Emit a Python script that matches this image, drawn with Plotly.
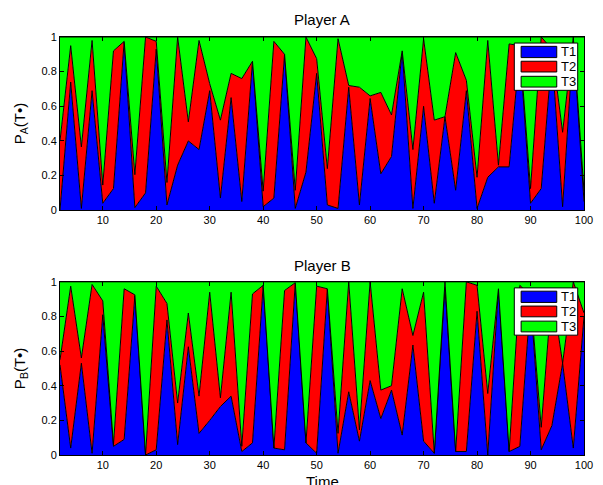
import plotly.graph_objects as go

# Time steps
time = list(range(2, 101, 2))

# Player A probabilities
pA_T1 = [0.00, 0.74, 0.01, 0.69, 0.04, 0.125, 0.975, 0.015, 0.10, 0.93,
         0.03, 0.26, 0.40, 0.35, 0.69, 0.07, 0.65, 0.05, 0.86, 0.02,
         0.07, 0.90, 0.01, 0.22, 0.79, 0.03, 0.01, 0.71, 0.03, 0.645,
         0.21, 0.31, 0.92, 0.01, 0.60, 0.04, 0.54, 0.115, 0.69, 0.01,
         0.19, 0.25, 0.25, 0.93, 0.04, 0.125, 0.90, 0.02, 0.98, 0.05]
pA_T2 = [0.40, 0.21, 0.355, 0.29, 0.105, 0.795, 0.00, 0.19, 0.90, 0.045,
         0.13, 0.74, 0.11, 0.63, 0.04, 0.45, 0.14, 0.71, 0.00, 0.09,
         0.905, 0.00, 0.105, 0.78, 0.085, 0.21, 0.98, 0.01, 0.68, 0.015,
         0.47, 0.24, 0.00, 0.34, 0.39, 0.48, 0.00, 0.795, 0.06, 0.18,
         0.79, 0.01, 0.71, 0.02, 0.085, 0.875, 0.03, 0.43, 0.02, 0.06]
pA_T3 = [0.60, 0.05, 0.635, 0.02, 0.855, 0.08, 0.025, 0.795, 0.00, 0.025,
         0.84, 0.00, 0.49, 0.02, 0.27, 0.48, 0.21, 0.24, 0.14, 0.89,
         0.025, 0.10, 0.885, 0.00, 0.125, 0.76, 0.01, 0.28, 0.29, 0.34,
         0.32, 0.45, 0.08, 0.65, 0.01, 0.48, 0.46, 0.09, 0.25, 0.81,
         0.02, 0.74, 0.04, 0.05, 0.875, 0.00, 0.07, 0.55, 0.00, 0.89]

# Player B probabilities
pB_T1 = [0.52, 0.04, 0.53, 0.01, 0.81, 0.05, 0.09, 0.92, 0.00, 0.03,
         0.78, 0.06, 0.625, 0.125, 0.20, 0.28, 0.34, 0.02, 0.07, 0.98,
         0.04, 0.03, 0.995, 0.07, 0.01, 0.96, 0.01, 0.365, 0.08, 0.43,
         0.21, 0.375, 0.115, 0.635, 0.08, 0.01, 0.97, 0.02, 0.02, 0.83,
         0.00, 0.96, 0.02, 0.05, 0.90, 0.03, 0.17, 0.53, 0.04, 0.80]
pB_T2 = [0.03, 0.935, 0.03, 0.975, 0.08, 0.01, 0.87, 0.005, 0.00, 0.945,
         0.095, 0.24, 0.195, 0.215, 0.74, 0.05, 0.60, 0.03, 0.86, 0.00,
         0.00, 0.92, 0.00, 0.00, 0.965, 0.00, 0.115, 0.635, 0.065, 0.57,
         0.165, 0.025, 0.845, 0.055, 0.86, 0.00, 0.03, 0.00, 0.98, 0.15,
         0.355, 0.00, 0.00, 0.93, 0.02, 0.13, 0.78, 0.00, 0.96, 0.02]
pB_T3 = [0.45, 0.025, 0.44, 0.015, 0.11, 0.94, 0.04, 0.075, 1.00, 0.025,
         0.125, 0.70, 0.18, 0.66, 0.06, 0.67, 0.06, 0.95, 0.07, 0.02,
         0.96, 0.05, 0.005, 0.93, 0.025, 0.04, 0.875, 0.00, 0.855, 0.00,
         0.625, 0.60, 0.04, 0.31, 0.06, 0.99, 0.00, 0.98, 0.00, 0.02,
         0.645, 0.04, 0.98, 0.02, 0.08, 0.84, 0.05, 0.47, 0.00, 0.18]

series_names = ["T1", "T2", "T3"]
colors = ["#0000ff", "#ff0000", "#00ff00"]

FONT = "Arial, Liberation Sans, sans-serif"

fig = go.Figure()

for name, vals, col in zip(series_names, [pA_T1, pA_T2, pA_T3], colors):
    fig.add_trace(go.Scatter(x=time, y=vals, name=name, stackgroup="A",
                             mode="lines", line=dict(color="black", width=1),
                             fillcolor=col, xaxis="x", yaxis="y", showlegend=False))
for name, vals, col in zip(series_names, [pB_T1, pB_T2, pB_T3], colors):
    fig.add_trace(go.Scatter(x=time, y=vals, name=name, stackgroup="B",
                             mode="lines", line=dict(color="black", width=1),
                             fillcolor=col, xaxis="x2", yaxis="y2", showlegend=False))

font = dict(family=FONT, size=11, color="black")
axis_common = dict(showline=True, linecolor="black", linewidth=1, mirror="ticks",
                   ticks="inside", ticklen=4, tickcolor="black", showgrid=False,
                   zeroline=False, tickfont=font)

xticks = [10, 20, 30, 40, 50, 60, 70, 80, 90, 100]
yticks = [0, 0.2, 0.4, 0.6, 0.8, 1]
yticklabels = ["0", "0.2", "0.4", "0.6", "0.8", "1"]

# Compact MATLAB-style legend boxes (one per subplot)
shapes = []
annotations = []
swatch_rows = [(0.881, 0.946), (0.798, 0.860), (0.711, 0.773)]
for xs, ys in [("x domain", "y domain"), ("x2 domain", "y2 domain")]:
    shapes.append(dict(type="rect", xref=xs, yref=ys, x0=0.867, x1=0.988, y0=0.692, y1=0.965,
                       fillcolor="white", line=dict(color="black", width=1), layer="above"))
    for name, col, (y0, y1) in zip(series_names, colors, swatch_rows):
        shapes.append(dict(type="rect", xref=xs, yref=ys, x0=0.880, x1=0.948, y0=y0, y1=y1,
                           fillcolor=col, line=dict(color="black", width=1), layer="above"))
        annotations.append(dict(text=name, xref=xs, yref=ys, x=0.952, y=(y0 + y1) / 2,
                                xanchor="left", yanchor="middle", showarrow=False,
                                font=dict(family=FONT, size=13, color="black")))

annotations += [
    dict(text="Player A", x=0.5, y=1.0, xref="paper", yref="paper", yanchor="bottom",
         yshift=7, showarrow=False, font=dict(family=FONT, size=15, color="black")),
    dict(text="Player B", x=0.5, y=0.4143, xref="paper", yref="paper", yanchor="bottom",
         yshift=6, showarrow=False, font=dict(family=FONT, size=15, color="black")),
    dict(text="P<sub>A</sub>(T•)", x=-0.075, y=0.7928, xref="paper", yref="paper",
         xanchor="center", yanchor="middle", textangle=-90, showarrow=False,
         font=dict(family=FONT, size=15, color="black")),
    dict(text="P<sub>B</sub>(T•)", x=-0.075, y=0.2071, xref="paper", yref="paper",
         xanchor="center", yanchor="middle", textangle=-90, showarrow=False,
         font=dict(family=FONT, size=15, color="black")),
    dict(text="Time", x=0.5, y=0, xref="paper", yref="paper", yanchor="top",
         yshift=-16, showarrow=False, font=dict(family=FONT, size=15, color="black")),
]

fig.update_layout(
    width=603, height=485,
    margin=dict(l=60, r=10, t=37, b=30),
    paper_bgcolor="white", plot_bgcolor="white",
    showlegend=False,
    xaxis=dict(domain=[0, 1], range=[2, 100], tickvals=xticks, anchor="y", **axis_common),
    yaxis=dict(domain=[0.5857, 1], range=[0, 1], tickvals=yticks, ticktext=yticklabels,
               anchor="x", **axis_common),
    xaxis2=dict(domain=[0, 1], range=[2, 100], tickvals=xticks, anchor="y2", **axis_common),
    yaxis2=dict(domain=[0, 0.4143], range=[0, 1], tickvals=yticks, ticktext=yticklabels,
                anchor="x2", **axis_common),
    shapes=shapes,
    annotations=annotations,
)

fig.write_html("out.html")
